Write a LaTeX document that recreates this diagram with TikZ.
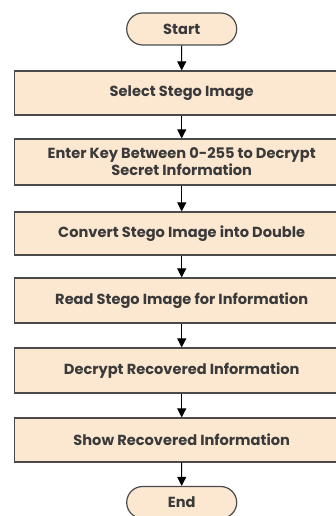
\documentclass[tikz,border=0pt]{standalone}
\usepackage{fontspec}
\setmainfont{Poppins}
\usetikzlibrary{arrows.meta,shapes.misc}
\definecolor{boxfill}{HTML}{FCE8D0}
\definecolor{boxdraw}{HTML}{4A4A4A}
\definecolor{txt}{HTML}{3A3A3A}
\tikzset{
  x=1pt,y=-1pt,
  procbox/.style={draw=boxdraw,line width=1.2pt,fill=boxfill,minimum width=335pt,inner sep=0pt,
     text=txt,font=\fontsize{14.6}{17}\selectfont\bfseries,align=center},
  pill/.style={draw=boxdraw,line width=1.2pt,fill=boxfill,rounded rectangle,minimum width=110pt,minimum height=32pt,inner sep=0pt,
     text=txt,font=\fontsize{14.6}{17}\selectfont\bfseries},
  flow/.style={draw=black,line width=1pt,-{Triangle[length=9pt,width=9pt]}}
}
\begin{document}
\begin{tikzpicture}
\useasboundingbox (0,0) rectangle (336,516);
\clip (0,0) rectangle (336,516);
\node[pill] (start) at (181.7,29) {Start};
\node[procbox,minimum height=44pt] (b1) at (181.7,93) {Select Stego Image};
\node[procbox,minimum height=46pt] (b2) at (181.7,162) {Enter Key Between 0-255 to Decrypt\\Secret Information};
\node[procbox,minimum height=43pt] (b3) at (181.7,233.5) {Convert Stego Image into Double};
\node[procbox,minimum height=45pt] (b4) at (181.7,300.5) {Read Stego Image for Information};
\node[procbox,minimum height=45pt] (b5) at (181.7,370.5) {Decrypt Recovered Information};
\node[procbox,minimum height=44pt] (b6) at (181.7,440) {Show Recovered Information};
\node[pill] (end) at (181.7,502.5) {End};
\draw[flow] (start) -- (b1);
\draw[flow] (b1) -- (b2);
\draw[flow] (b2) -- (b3);
\draw[flow] (b3) -- (b4);
\draw[flow] (b4) -- (b5);
\draw[flow] (b5) -- (b6);
\draw[flow] (b6) -- (end);
\end{tikzpicture}
\end{document}
